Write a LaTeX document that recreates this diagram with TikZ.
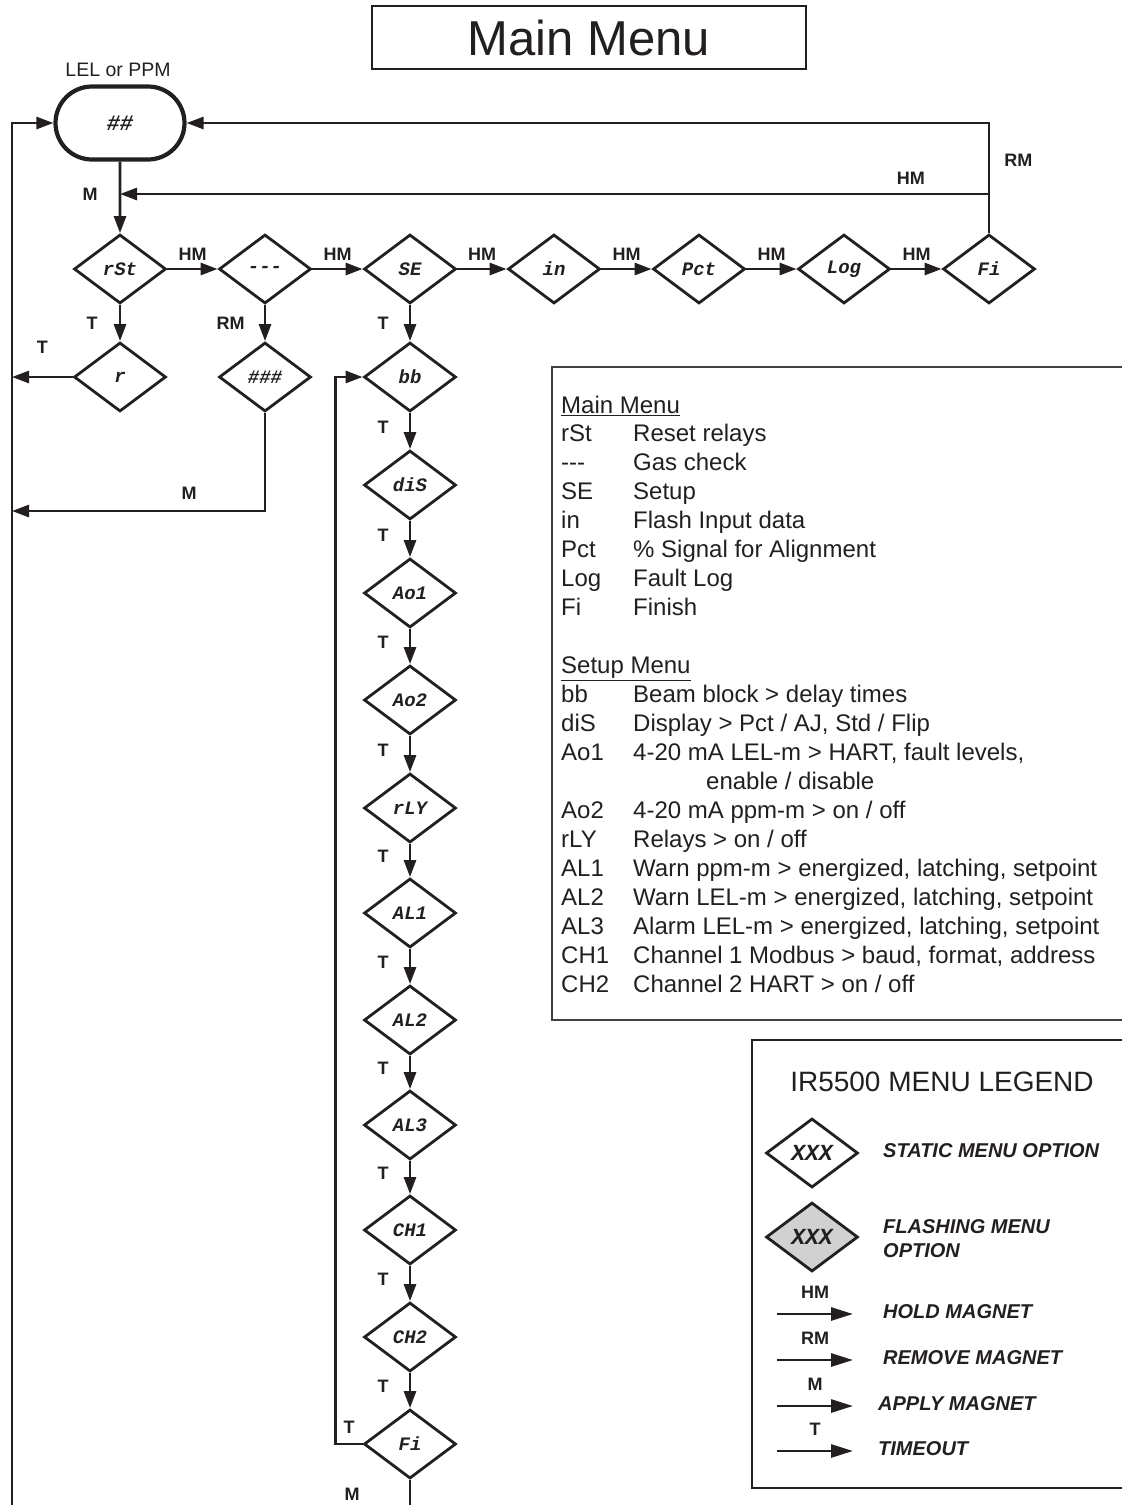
\documentclass[tikz,border=0pt]{standalone}
\usepackage{fontspec}
\setmainfont{Liberation Sans}
\newfontfamily\menufont{Liberation Mono}
\usetikzlibrary{shapes.geometric,shapes.misc,arrows.meta}
\definecolor{ink}{RGB}{35,31,32}
\tikzset{
  menu/.style={draw, diamond, line width=2.8pt, inner sep=0pt,
    minimum width=92pt, minimum height=69pt,
    font=\menufont\bfseries\itshape\fontsize{19}{19}\selectfont},
  home/.style={draw, rounded rectangle, line width=4.2pt, inner sep=0pt,
    minimum width=129pt, minimum height=73pt,
    font=\menufont\bfseries\itshape\fontsize{22}{22}\selectfont},
  flow/.style={line width=2.8pt, -{Triangle[length=17pt,width=12pt]}},
  keyarrow/.style={line width=2.8pt, -{Triangle[length=22pt,width=13pt]}},
  lbl/.style={font=\bfseries\fontsize{18}{18}\selectfont, inner sep=0pt},
  listtext/.style={anchor=base west, inner sep=0pt, font=\fontsize{24}{29}\selectfont},
  legtext/.style={anchor=west, inner sep=0pt, align=left,
    font=\bfseries\itshape\fontsize{20}{24}\selectfont},
}
\begin{document}
\begin{tikzpicture}[x=1pt,y=-1pt,color=ink]
  \useasboundingbox (0,0) rectangle (1122,1505);
  \clip (0,0) rectangle (1122,1505);

  % title and home display
  \node[draw, line width=1.3pt, minimum width=434pt, minimum height=63pt,
    font=\fontsize{49}{49}\selectfont] (title) at (589,37.5) {Main Menu};
  \node[font=\fontsize{19.5}{20}\selectfont] (unit) at (118,70) {LEL or PPM};
  \node[home] (hash) at (120,123) {\#\#};

  % main menu row
  \foreach \name/\txt/\x in {%
    rst/rSt/120, gas/{-\kern0pt-\kern0pt-}/265, setup/SE/410,
    inp/in/554, pct/Pct/699, log/Log/844, fin/Fi/989
  }{
    \node[menu] (\name) at (\x,269) {\txt};
  }
  \node[menu] (r) at (120,377) {r};
  \node[menu] (hhh) at (265,377) {\#\#\#};

  % setup column
  \foreach \name/\txt/\y in {%
    bb/bb/377, dis/diS/485, aoa/Ao1/593, aob/Ao2/700, rly/rLY/808,
    ala/AL1/913, alb/AL2/1020, alc/AL3/1125, cha/CH1/1230,
    chb/CH2/1337, sfin/Fi/1444
  }{
    \node[menu] (\name) at (410,\y) {\txt};
  }

  % connectors
  \coordinate (lbot) at (12,1512);
  \coordinate (hmret) at (989,194);
  \coordinate (mret) at (12,511);
  \draw[flow] (lbot) |- (hash.west);
  \draw[flow] (fin.north) |- (hash.east) node[lbl, pos=0.33, right=14pt] {RM};
  \draw[flow] (hmret) -- (hmret -| hash.south) node[lbl, pos=0.09, above=8pt] {HM};
  \draw[flow] (hash) -- (rst) node[lbl, midway, left=21pt, yshift=3pt] {M};
  \foreach \a/\b in {rst/gas, gas/setup, setup/inp, inp/pct, pct/log, log/fin}{
    \draw[flow] (\a) -- (\b) node[lbl, midway, above=7pt] {HM};
  }
  \draw[flow] (rst) -- (r) node[lbl, midway, left=21pt] {T};
  \draw[flow] (gas) -- (hhh) node[lbl, midway, left=19pt] {RM};
  \draw[flow] (setup) -- (bb) node[lbl, midway, left=20pt] {T};
  \draw[flow] (r.west) -- (r.west -| lbot) node[lbl, midway, above=22pt] {T};
  \draw[flow] (hhh.south) |- (mret) node[lbl, pos=0.65, above=10pt] {M};
  \foreach \a/\b in {bb/dis, dis/aoa, aoa/aob, aob/rly, rly/ala, ala/alb,
    alb/alc, alc/cha, cha/chb, chb/sfin}{
    \draw[flow] (\a) -- (\b) node[lbl, midway, left=20pt, yshift=4pt] {T};
  }
  \draw[flow] (sfin.west) -- ++(-27,0) node[lbl, midway, above=9pt] {T} |- (bb.west);
  \draw[line width=2.8pt] (sfin.south) -- (sfin.south |- lbot)
    node[lbl, pos=0.45, left=49pt] {M};

  % menu descriptions
  \draw[line width=1.2pt, color=black!75] (552,367) rectangle (1140,1020);
  \node[listtext] (mhead) at (561,413.5) {\underline{Main Menu}};
  \foreach \key/\desc [count=\i] in {%
    rSt/{Reset relays}, {-\kern0pt-\kern0pt-}/{Gas check}, SE/Setup,
    in/{Flash Input data}, Pct/{\% Signal for Alignment},
    Log/{Fault Log}, Fi/Finish
  }{
    \node[listtext] (mkey\i) at (561,{412.5+29*\i}) {\key};
    \node[listtext] (mdesc\i) at (633,{412.5+29*\i}) {\desc};
  }
  \node[listtext] (shead) at (561,673.5) {\underline{Setup Menu}};
  \foreach \key/\desc/\n in {%
    bb/{Beam block > delay times}/0,
    diS/{Display > Pct / AJ, Std / Flip}/1,
    Ao1/{4-20 mA LEL-m > HART, fault levels,}/2,
    Ao2/{4-20 mA ppm-m > on / off}/4,
    rLY/{Relays > on / off}/5,
    AL1/{Warn ppm-m > energized, latching, setpoint}/6,
    AL2/{Warn LEL-m > energized, latching, setpoint}/7,
    AL3/{Alarm LEL-m > energized, latching, setpoint}/8,
    CH1/{Channel 1 Modbus > baud, format, address}/9,
    CH2/{Channel 2 HART > on / off}/10
  }{
    \node[listtext] (skey\n) at (561,{702.5+29*\n}) {\key};
    \node[listtext] (sdesc\n) at (633,{702.5+29*\n}) {\desc};
  }
  \node[listtext] (sdesc3) at (706,789.5) {enable / disable};

  % legend
  \draw[line width=2pt] (752,1040) rectangle (1140,1488);
  \node[font=\fontsize{28}{28}\selectfont] (legtitle) at (942,1082) {IR5500 MENU LEGEND};
  \node[menu, font=\menufont\bfseries\itshape\fontsize{23}{23}\selectfont] (static) at (812,1153) {XXX};
  \node[menu, fill=black!18, font=\menufont\bfseries\itshape\fontsize{23}{23}\selectfont] (flash) at (812,1237) {XXX};
  \node[legtext] (statictxt) at (883,1151) {STATIC MENU OPTION};
  \node[legtext] (flashtxt) at (883,1239) {FLASHING MENU\\OPTION};
  \foreach \lab/\txt/\y/\tx [count=\i] in {%
    HM/{HOLD MAGNET}/1314/883, RM/{REMOVE MAGNET}/1360/883,
    M/{APPLY MAGNET}/1406/878, T/TIMEOUT/1451/878
  }{
    \coordinate (key\i) at (777,\y);
    \draw[keyarrow] (key\i) -- ++(76,0) node[lbl, midway, above=14pt] {\lab};
    \node[legtext] (keytxt\i) at (\tx,{\y-2}) {\txt};
  }
\end{tikzpicture}
\end{document}
